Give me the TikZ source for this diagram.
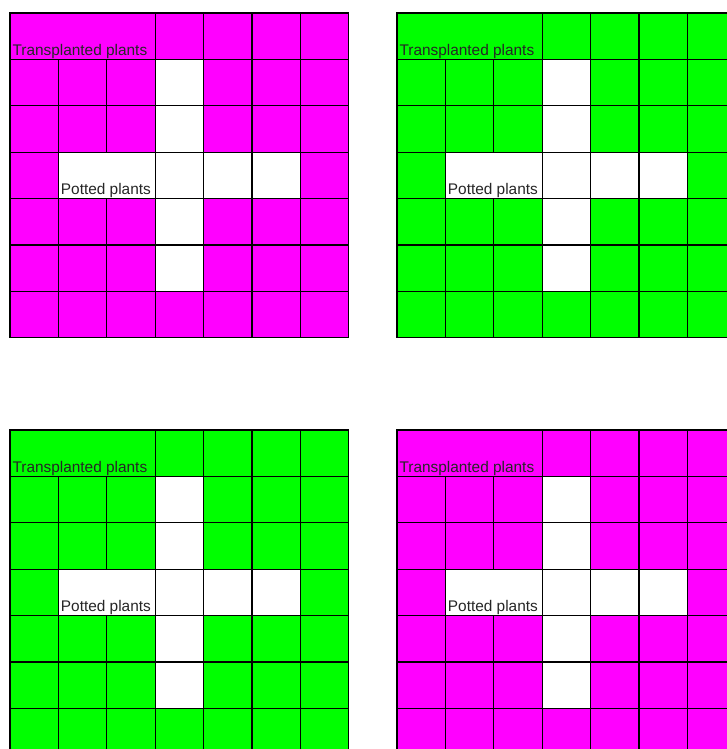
\documentclass[tikz,border=0pt]{standalone}
\usepackage{fontspec}
\setmainfont{Liberation Sans}
\definecolor{plotpink}{RGB}{255, 0, 255}
\definecolor{plotgreen}{RGB}{0, 255, 0}
\usetikzlibrary{positioning}

\tikzset{
    cell/.style={draw=black, line width=1.3pt, inner sep=0pt,
        minimum width=48.4pt, minimum height=46.4pt},
    plotlabel/.style={font=\fontsize{15.4}{18}\selectfont, text=black!85,
        inner sep=0pt, anchor=base west}
}

\begin{document}
\begin{tikzpicture}[x=1pt, y=-1pt]
    \clip (0,0) rectangle (727,749);
    \fill[white] (0,0) rectangle (727,749);

    % one 7x7 plot per corner
    \foreach \gx/\gy/\gcol/\gname in {10/13/plotpink/tl, 397/13/plotgreen/tr,
                                      10/430/plotgreen/bl, 397/430/plotpink/br}{
        % transplanted strip (top row, three cells wide)
        \node[cell, minimum width=145.2pt, fill=\gcol] (\gname-top)
            at ({\gx+72.6},{\gy+23.2}) {};
        % potted strip (fourth row, two cells wide)
        \node[cell, minimum width=96.8pt, fill=white] (\gname-pot)
            at ({\gx+96.8},{\gy+162.4}) {};

        % single cells
        \foreach \rw in {0,...,6}{
            \foreach \cl in {0,...,6}{
                \pgfmathtruncatemacro{\merged}{((\rw==0) && (\cl<3)) || ((\rw==3) && ((\cl==1) || (\cl==2))) ? 1 : 0}
                \pgfmathtruncatemacro{\isbare}{((\cl==3) && (\rw>0) && (\rw<6)) || ((\rw==3) && (\cl>0) && (\cl<6)) ? 1 : 0}
                \ifnum\merged=0
                    \ifnum\isbare=1
                        \node[cell, fill=white] (\gname-\rw-\cl)
                            at ({\gx+(\cl+0.5)*48.4},{\gy+(\rw+0.5)*46.4}) {};
                    \else
                        \node[cell, fill=\gcol] (\gname-\rw-\cl)
                            at ({\gx+(\cl+0.5)*48.4},{\gy+(\rw+0.5)*46.4}) {};
                    \fi
                \fi
            }
        }

        % labels
        \node[plotlabel, xshift=3pt, yshift=5pt] (\gname-transtext)
            at (\gname-top.south west) {Transplanted plants};
        \node[plotlabel, xshift=3pt, yshift=4.5pt] (\gname-pottext)
            at (\gname-pot.south west) {Potted plants};
    }
\end{tikzpicture}
\end{document}
